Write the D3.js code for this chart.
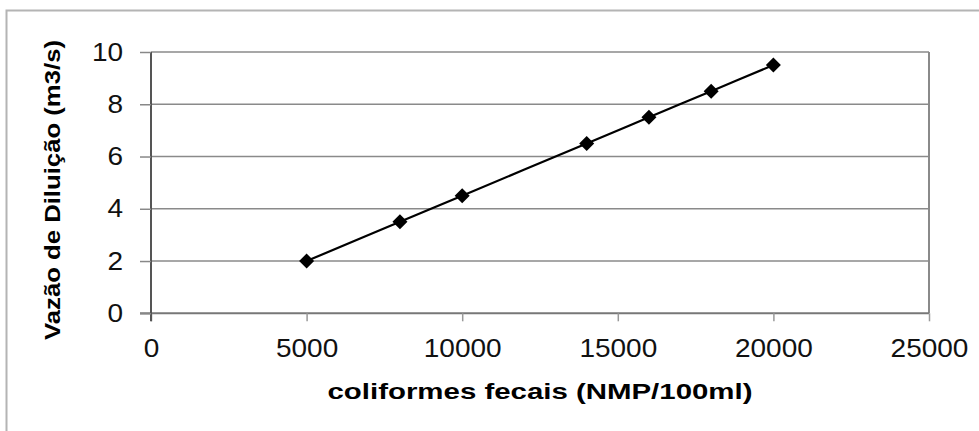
<!DOCTYPE html>
<html>
<head>
<meta charset="utf-8">
<script src="https://cdn.jsdelivr.net/npm/d3@7"></script>
<style>
  html, body { margin: 0; padding: 0; background: #fff; }
  svg { display: block; font-family: "Liberation Sans", Arial, sans-serif; }
</style>
</head>
<body>
<svg id="chart" width="979" height="431"></svg>
<script>
// dados
var coliformes = [5000, 8000, 10000, 14000, 16000, 18000, 20000];
var vazao = [2, 3.5, 4.5, 6.5, 7.5, 8.5, 9.5];
var xTicks = [0, 5000, 10000, 15000, 20000, 25000];
var yTicks = [0, 2, 4, 6, 8, 10];
var xTitle = "coliformes fecais (NMP/100ml)";
var yTitle = "Vazão de Diluição (m3/s)";

(function() {
    "use strict";
    var svg = d3.select("#chart"),
        plotLeft = 151, plotRight = 929, plotTop = 52, plotBottom = 313.3,
        stretch = 1.12;

    // moldura externa
    svg.append("rect")
        .attr("x", 6.5).attr("y", 10.5)
        .attr("width", 990).attr("height", 440)
        .attr("fill", "none").attr("stroke", "#b4b4b4").attr("stroke-width", 2);

    var x = d3.scaleLinear().domain([0, 25000]).range([plotLeft, plotRight]);
    var y = d3.scaleLinear().domain([0, 10]).range([plotBottom, plotTop]);

    // linhas de grade
    svg.append("g")
        .selectAll("line")
        .data(yTicks.filter(function(d) { return d > 0; }))
        .join("line")
        .attr("x1", plotLeft).attr("x2", plotRight)
        .attr("y1", function(d) { return y(d); })
        .attr("y2", function(d) { return y(d); })
        .attr("stroke", "#8a8a8a").attr("stroke-width", 1.5);

    // borda direita da area de plotagem
    svg.append("line")
        .attr("x1", plotRight).attr("x2", plotRight)
        .attr("y1", plotTop).attr("y2", plotBottom)
        .attr("stroke", "#8a8a8a").attr("stroke-width", 2);

    // eixo x
    var gx = svg.append("g")
        .attr("transform", "translate(0," + plotBottom + ")")
        .call(d3.axisBottom(x).tickValues(xTicks).tickFormat(d3.format("d"))
            .tickSize(8).tickPadding(18).tickSizeOuter(0));
    gx.attr("font-family", null).attr("font-size", null);
    gx.select(".domain").attr("stroke", "#777").attr("stroke-width", 2)
        .attr("d", "M" + (plotLeft - 11) + ",0H" + plotRight);
    gx.selectAll(".tick line").attr("stroke", "#999").attr("stroke-width", 1.5);
    gx.selectAll(".tick text")
        .attr("fill", "#111")
        .style("font-size", "25px")
        .attr("transform", "scale(" + stretch + ",1)");

    // eixo y
    var gy = svg.append("g")
        .attr("transform", "translate(" + plotLeft + ",0)")
        .call(d3.axisLeft(y).tickValues(yTicks).tickFormat(d3.format("d"))
            .tickSize(11).tickSizeOuter(0));
    gy.attr("font-family", null).attr("font-size", null);
    gy.select(".domain").attr("stroke", "#555").attr("stroke-width", 2)
        .attr("d", "M0," + plotTop + "V" + (plotBottom + 8));
    gy.selectAll(".tick line").attr("stroke", "#888").attr("stroke-width", 1.5);
    gy.selectAll(".tick text")
        .attr("fill", "#111")
        .attr("x", -28 / stretch)
        .style("font-size", "25px")
        .attr("transform", "scale(" + stretch + ",1)");

    // serie suavizada
    var linha = d3.line()
        .x(function(d, i) { return x(coliformes[i]); })
        .y(function(d) { return y(d); })
        .curve(d3.curveCatmullRom.alpha(0.5));

    svg.append("path")
        .datum(vazao)
        .attr("d", linha)
        .attr("fill", "none")
        .attr("stroke", "#000")
        .attr("stroke-width", 2.2);

    svg.append("g")
        .selectAll("path")
        .data(vazao)
        .join("path")
        .attr("transform", function(d, i) { return "translate(" + x(coliformes[i]) + "," + y(d) + ")"; })
        .attr("d", "M0,-7.5L7.5,0L0,7.5L-7.5,0Z")
        .attr("fill", "#000");

    // titulos
    svg.append("text")
        .attr("x", (plotLeft + plotRight) / 2).attr("y", 399)
        .attr("text-anchor", "middle")
        .attr("font-weight", "bold")
        .attr("font-size", 22)
        .attr("textLength", 425)
        .attr("lengthAdjust", "spacingAndGlyphs")
        .text(xTitle);

    svg.append("text")
        .attr("transform", "translate(60,190) rotate(-90)")
        .attr("text-anchor", "middle")
        .attr("font-weight", "bold")
        .attr("font-size", 22)
        .attr("textLength", 300)
        .attr("lengthAdjust", "spacingAndGlyphs")
        .text(yTitle);
})();
</script>
</body>
</html>
